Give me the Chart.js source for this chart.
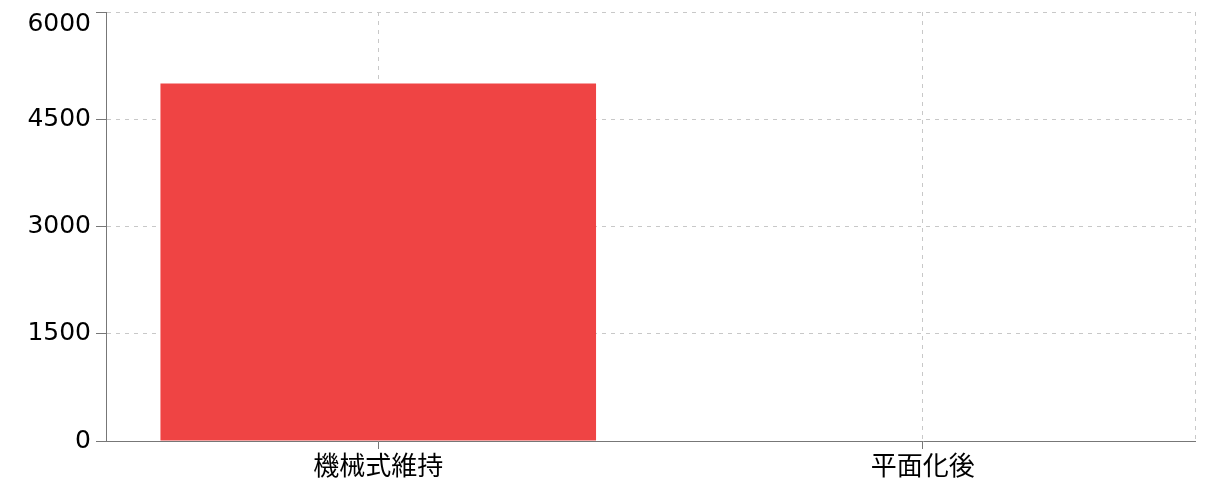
<!DOCTYPE html>
<html>
<head>
<meta charset="utf-8">
<script src="https://cdn.jsdelivr.net/npm/chart.js@4"></script>
<style>
  html, body { margin: 0; padding: 0; background: #fff; }
  #wrap { width: 1228px; height: 484px; }
</style>
</head>
<body>
<div id="wrap"><canvas id="c"></canvas></div>
<script>
const categories = ["機械式維持", "平面化後"];
const values = [5000, 0];
const yTicks = [0, 1500, 3000, 4500, 6000];

// dashed line on the right edge of the plot area
const rightEdge = {
  id: 'rightEdge',
  beforeDatasetsDraw(chart) {
    const { ctx, chartArea } = chart;
    ctx.save();
    ctx.strokeStyle = '#c8c8c8';
    ctx.lineWidth = 1;
    ctx.setLineDash([4, 5]);
    ctx.beginPath();
    ctx.moveTo(chartArea.right + 0.5, chartArea.top);
    ctx.lineTo(chartArea.right + 0.5, chartArea.bottom);
    ctx.stroke();
    ctx.restore();
  }
};

new Chart(document.getElementById('c'), {
  type: 'bar',
  data: {
    labels: categories,
    datasets: [{
      data: values,
      backgroundColor: 'rgb(239, 68, 68)',
      barPercentage: 0.8,
      categoryPercentage: 1.0
    }]
  },
  options: {
    responsive: true,
    maintainAspectRatio: false,
    animation: false,
    layout: { padding: { top: 12, right: 33, left: 0, bottom: 0 } },
    plugins: { legend: { display: false }, tooltip: { enabled: false } },
    scales: {
      x: {
        offset: true,
        grid: {
          offset: false,
          color: '#c8c8c8',
          tickColor: '#777777',
          tickLength: 8,
          tickBorderDash: []
        },
        border: { color: '#777777', dash: [4, 5] },
        ticks: {
          color: '#000',
          padding: 1,
          font: { family: '"Noto Sans CJK JP", sans-serif', size: 26 }
        },
        afterFit(scale) { scale.height = 43; }
      },
      y: {
        min: 0,
        max: 6000,
        afterBuildTicks(scale) { scale.ticks = yTicks.map(v => ({ value: v })); },
        grid: {
          color: '#c8c8c8',
          tickColor: '#777777',
          tickLength: 10,
          tickBorderDash: []
        },
        border: { color: '#777777', dash: [4, 5] },
        ticks: {
          color: '#000',
          padding: 5,
          font: { family: '"DejaVu Sans", sans-serif', size: 25, lineHeight: 0.96 },
          // top label sits below its tick, as in the original
          callback: (v, i, t) => i === t.length - 1 ? ['', String(v)] : String(v)
        },
        afterFit(scale) { scale.width = 106; scale.paddingTop = 0; }
      }
    }
  },
  plugins: [rightEdge]
});
</script>
</body>
</html>
